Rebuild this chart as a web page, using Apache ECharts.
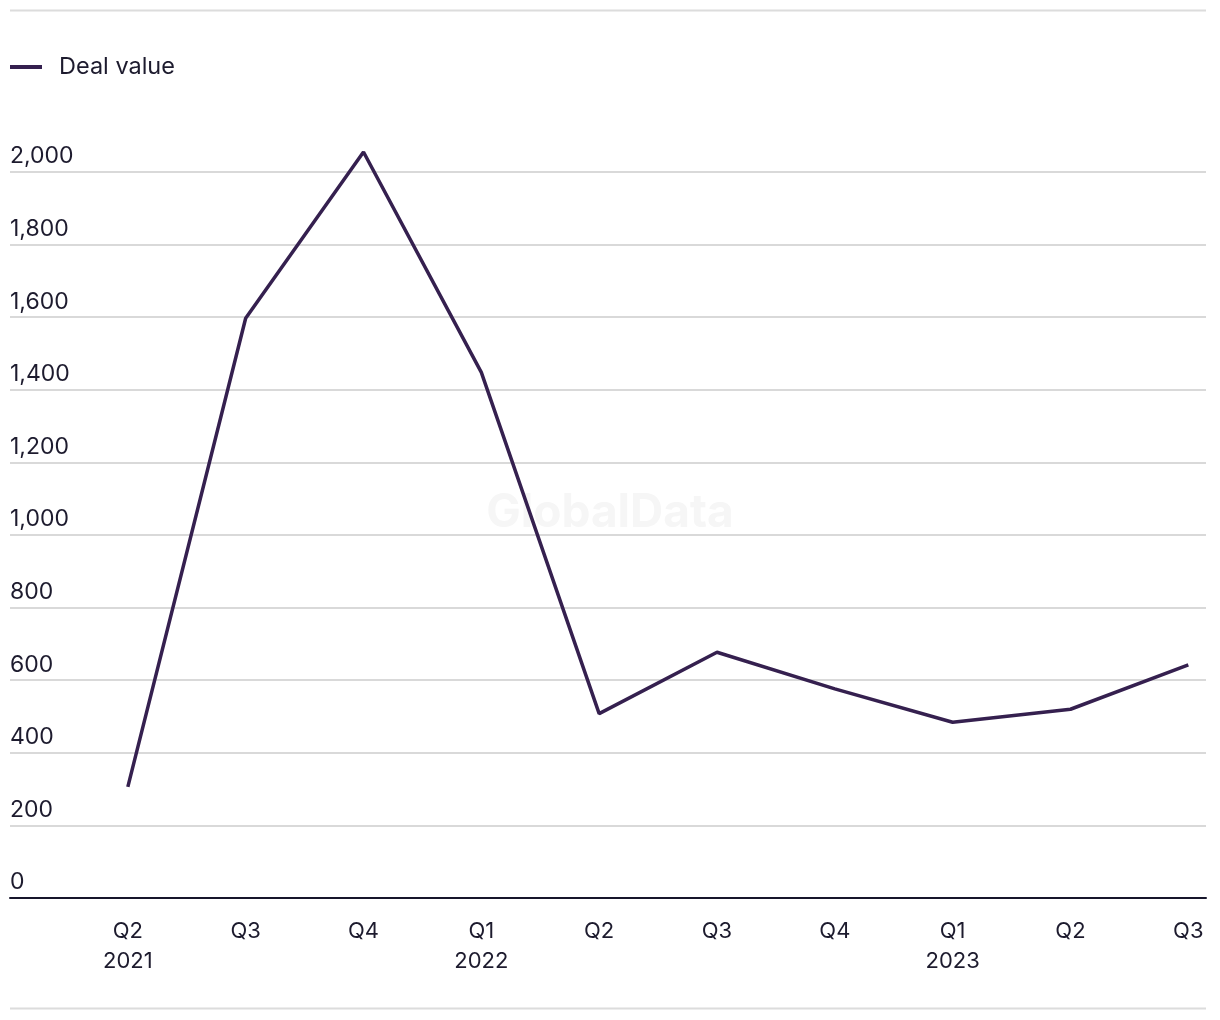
<!DOCTYPE html>
<html>
<head>
<meta charset="utf-8">
<script src="https://cdn.jsdelivr.net/npm/echarts@6/dist/echarts.min.js"></script>
<style>
html,body{margin:0;padding:0;background:#fff;}
#chart{width:1220px;height:1020px;}
</style>
</head>
<body>
<div id="chart"></div>
<script>
var quarters = ['Q2','Q3','Q4','Q1','Q2','Q3','Q4','Q1','Q2','Q3'];
var years = ['2021','','','2022','','','','2023','',''];
var dealValue = [306, 1597, 2055, 1448, 508, 677, 576, 484, 520, 642];
var yTicks = {min: 0, max: 2000, interval: 200};

var FONT = 'Inter, "Noto Sans", sans-serif';
var TEXT = '#1d1b2e';
var LINE = '#35204f';

var seriesData = dealValue.map(function (v, i) { return [i, v]; });

var chart = echarts.init(document.getElementById('chart'));
chart.setOption({
  animation: false,
  backgroundColor: '#fff',
  textStyle: {fontFamily: FONT},
  graphic: [
    {type: 'line', shape: {x1: 10, y1: 10.5, x2: 1206, y2: 10.5}, style: {stroke: '#dcdcdc', lineWidth: 2}},
    {type: 'line', shape: {x1: 10, y1: 1008.5, x2: 1206, y2: 1008.5}, style: {stroke: '#dcdcdc', lineWidth: 2}},
    {type: 'text', left: 'center', top: 490, z: -1,
     style: {text: 'GlobalData', font: 'bold 46px ' + FONT, fill: '#f6f6f6'}}
  ],
  legend: {
    left: 10, top: 55, padding: 0,
    icon: 'rect', itemWidth: 32, itemHeight: 4,
    textStyle: {fontFamily: FONT, fontSize: 23.5, color: TEXT, padding: [0, 0, 0, 12]},
    data: ['Deal value']
  },
  grid: {left: 10, right: 14, top: 172, bottom: 122, containLabel: false},
  xAxis: {
    type: 'value', min: -1, max: 9.15, interval: 1,
    splitLine: {show: false},
    axisTick: {show: false},
    axisLine: {show: true, lineStyle: {color: '#16152b', width: 2}},
    axisLabel: {
      margin: 18, fontFamily: FONT, fontSize: 22, color: TEXT, lineHeight: 30,
      showMinLabel: false, showMaxLabel: false,
      formatter: function (v) {
        if (v < 0 || v > quarters.length - 1 || Math.abs(v - Math.round(v)) > 1e-6) return '';
        var i = Math.round(v);
        return years[i] ? quarters[i] + '\n' + years[i] : quarters[i];
      }
    }
  },
  yAxis: {
    type: 'value', min: yTicks.min, max: yTicks.max, interval: yTicks.interval,
    axisLine: {show: false}, axisTick: {show: false},
    splitLine: {show: true, lineStyle: {color: '#d9d9d9', width: 2}},
    axisLabel: {
      inside: true, margin: 0, fontFamily: FONT, fontSize: 23, color: TEXT,
      verticalAlign: 'bottom', padding: [0, 0, 4, 0],
      formatter: function (v) { return v.toLocaleString('en-US'); }
    }
  },
  series: [{
    name: 'Deal value', type: 'line', data: seriesData,
    symbol: 'none', clip: false,
    lineStyle: {color: LINE, width: 3.5},
    itemStyle: {color: LINE}
  }]
});
</script>
</body>
</html>
